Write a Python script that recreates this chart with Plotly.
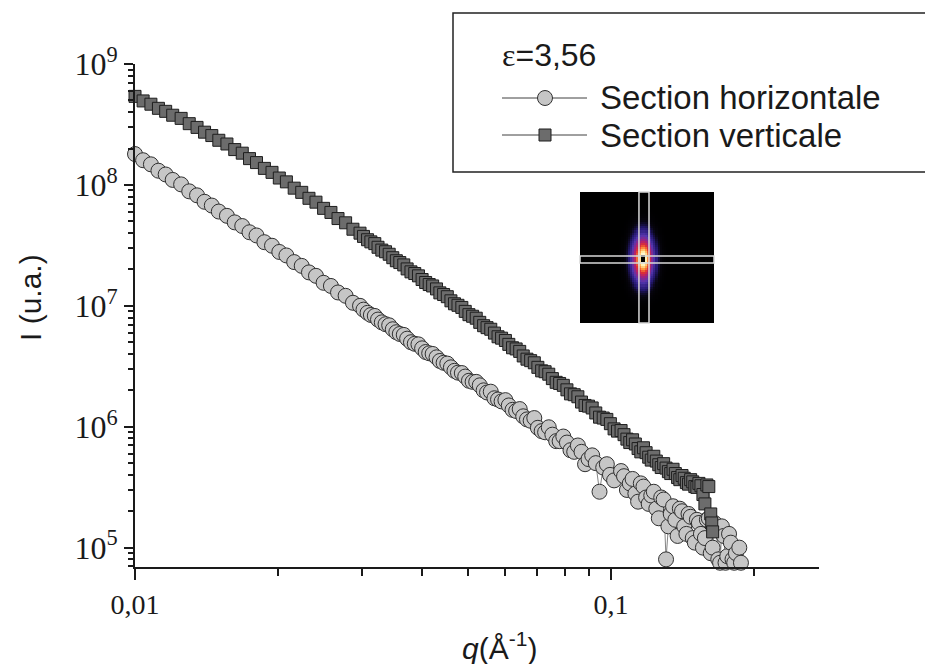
import numpy as np
import plotly.graph_objects as go

# ---------------- data ----------------
# Section verticale (squares): main readings + in-between readings
q_vert = [0.0100, 0.0104, 0.0108, 0.0112, 0.0116, 0.0120, 0.0125, 0.0130, 0.0135, 0.0140,
          0.0145, 0.0150, 0.0156, 0.0162, 0.0168, 0.0174, 0.0180, 0.0187, 0.0194, 0.0201,
          0.0208, 0.0216, 0.0224, 0.0232, 0.0240, 0.0249, 0.0258, 0.0267, 0.0277, 0.0287,
          0.0297, 0.0308, 0.0319, 0.0330, 0.0342, 0.0354, 0.0367, 0.0380, 0.0394, 0.0408,
          0.0422, 0.0437, 0.0453, 0.0469, 0.0486, 0.0503, 0.0521, 0.0540, 0.0559, 0.0579,
          0.0600, 0.0621, 0.0643, 0.0666, 0.0690, 0.0715, 0.0740, 0.0767, 0.0794, 0.0822,
          0.0852, 0.0882, 0.0913, 0.0946, 0.0980, 0.1015, 0.1050, 0.1080, 0.1110, 0.1140,
          0.1170, 0.1200, 0.1230, 0.1260, 0.1290, 0.1320, 0.1350, 0.1380, 0.1410, 0.1440,
          0.1470, 0.1500, 0.1530, 0.1560, 0.1590, 0.1620, 0.1635]
I_vert = [5.40e8, 4.95e8, 4.65e8, 4.30e8, 4.06e8, 3.77e8, 3.55e8, 3.21e8, 2.99e8, 2.73e8,
          2.56e8, 2.34e8, 2.18e8, 1.96e8, 1.83e8, 1.65e8, 1.53e8, 1.37e8, 1.27e8, 1.14e8,
          1.06e8, 9.40e7, 8.68e7, 7.75e7, 7.20e7, 6.40e7, 5.92e7, 5.27e7, 4.86e7, 4.30e7,
          3.99e7, 3.52e7, 3.27e7, 2.89e7, 2.67e7, 2.36e7, 2.18e7, 1.91e7, 1.77e7, 1.56e7,
          1.46e7, 1.28e7, 1.19e7, 1.04e7, 9.70e6, 8.45e6, 7.90e6, 6.85e6, 6.40e6, 5.55e6,
          5.17e6, 4.50e6, 4.20e6, 3.62e6, 3.38e6, 2.90e6, 2.72e6, 2.33e6, 2.20e6, 1.87e6,
          1.77e6, 1.50e6, 1.43e6, 1.20e6, 1.15e6, 9.60e5, 9.30e5, 7.90e5, 7.80e5, 6.60e5,
          6.70e5, 5.60e5, 5.70e5, 4.85e5, 4.95e5, 4.25e5, 4.45e5, 3.80e5, 3.95e5, 3.45e5,
          3.65e5, 3.20e5, 3.40e5, 2.75e5, 3.30e5, 1.90e5, 1.35e5]
q_vert_mid = [0.0302, 0.0313, 0.0324, 0.0336, 0.0348, 0.0360, 0.0373, 0.0387, 0.0401, 0.0415,
              0.0430, 0.0445, 0.0461, 0.0477, 0.0494, 0.0512, 0.0530, 0.0549, 0.0569, 0.0589,
              0.0610, 0.0632, 0.0654, 0.0678, 0.0702, 0.0727, 0.0753, 0.0780, 0.0808, 0.0837,
              0.0867, 0.0897, 0.0929, 0.0963, 0.0997, 0.1032, 0.1065, 0.1095, 0.1125, 0.1155,
              0.1185, 0.1215, 0.1245, 0.1275, 0.1305, 0.1335, 0.1365, 0.1395, 0.1425, 0.1455,
              0.1485, 0.1515, 0.1545, 0.1575, 0.1605, 0.1628]
I_vert_mid = [3.75e7, 3.38e7, 3.05e7, 2.80e7, 2.50e7, 2.28e7, 2.02e7, 1.85e7, 1.65e7, 1.50e7,
              1.38e7, 1.24e7, 1.10e7, 1.01e7, 9.00e6, 8.20e6, 7.30e6, 6.60e6, 5.95e6, 5.40e6,
              4.80e6, 4.40e6, 3.85e6, 3.52e6, 3.10e6, 2.85e6, 2.50e6, 2.28e6, 2.02e6, 1.84e6,
              1.60e6, 1.48e6, 1.30e6, 1.18e6, 1.06e6, 9.20e5, 8.60e5, 7.40e5, 7.20e5, 6.20e5,
              6.10e5, 5.30e5, 5.20e5, 4.60e5, 4.55e5, 4.10e5, 4.10e5, 3.65e5, 3.75e5, 3.35e5,
              3.50e5, 3.15e5, 3.25e5, 2.30e5, 3.20e5, 1.60e5]

# Section horizontale (circles): main readings + in-between readings
q_horiz = [0.0100, 0.0104, 0.0108, 0.0112, 0.0116, 0.0120, 0.0125, 0.0130, 0.0135, 0.0140,
           0.0145, 0.0150, 0.0156, 0.0162, 0.0168, 0.0174, 0.0180, 0.0187, 0.0194, 0.0201,
           0.0208, 0.0216, 0.0224, 0.0232, 0.0240, 0.0249, 0.0258, 0.0267, 0.0277, 0.0287,
           0.0297, 0.0308, 0.0319, 0.0330, 0.0342, 0.0354, 0.0367, 0.0380, 0.0394, 0.0408,
           0.0422, 0.0437, 0.0453, 0.0469, 0.0486, 0.0503, 0.0521, 0.0540, 0.0559, 0.0579,
           0.0600, 0.0621, 0.0643, 0.0666, 0.0690, 0.0715, 0.0740, 0.0767, 0.0794, 0.0822,
           0.0852, 0.0882, 0.0913, 0.0946, 0.0980, 0.0995, 0.1015, 0.1050, 0.1065, 0.1080,
           0.1095, 0.1110, 0.1125, 0.1140, 0.1155, 0.1170, 0.1185, 0.1200, 0.1215, 0.1230,
           0.1245, 0.1260, 0.1275, 0.1290, 0.1305, 0.1320, 0.1335, 0.1350, 0.1365, 0.1380,
           0.1395, 0.1410, 0.1425, 0.1440, 0.1455, 0.1470, 0.1485, 0.1500, 0.1515, 0.1530,
           0.1545, 0.1560, 0.1575, 0.1590, 0.1605, 0.1620, 0.1635, 0.1650, 0.1665, 0.1680,
           0.1695, 0.1710, 0.1725, 0.1740, 0.1755, 0.1770, 0.1785, 0.1800, 0.1815, 0.1830,
           0.1860, 0.1875]
I_horiz = [1.80e8, 1.60e8, 1.48e8, 1.31e8, 1.22e8, 1.10e8, 1.01e8, 8.85e7, 8.20e7, 7.25e7,
           6.75e7, 6.02e7, 5.55e7, 4.90e7, 4.57e7, 4.06e7, 3.82e7, 3.36e7, 3.14e7, 2.79e7,
           2.61e7, 2.30e7, 2.14e7, 1.89e7, 1.77e7, 1.55e7, 1.46e7, 1.29e7, 1.21e7, 1.06e7,
           1.00e7, 8.75e6, 8.25e6, 7.30e6, 6.90e6, 6.05e6, 5.75e6, 5.00e6, 4.80e6, 4.15e6,
           4.00e6, 3.50e6, 3.33e6, 2.90e6, 2.78e6, 2.40e6, 2.35e6, 2.00e6, 1.95e6, 1.68e6,
           1.66e6, 1.38e6, 1.40e6, 1.15e6, 1.18e6, 9.20e5, 9.90e5, 7.60e5, 8.30e5, 6.40e5,
           7.00e5, 4.90e5, 5.80e5, 2.90e5, 4.90e5, 4.00e5, 3.60e5, 4.30e5, 3.90e5, 3.00e5,
           3.40e5, 3.70e5, 2.80e5, 2.40e5, 3.40e5, 3.20e5, 2.60e5, 2.30e5, 2.70e5, 2.90e5,
           2.10e5, 1.75e5, 2.60e5, 2.50e5, 8.00e4, 1.50e5, 1.90e5, 2.20e5, 1.70e5, 1.25e5,
           2.10e5, 2.00e5, 1.50e5, 1.30e5, 1.90e5, 1.80e5, 1.20e5, 1.10e5, 1.70e5, 1.60e5,
           1.30e5, 1.00e5, 1.20e5, 1.70e5, 1.75e5, 9.00e4, 1.00e5, 1.60e5, 1.40e5, 8.00e4,
           7.50e4, 1.50e5, 1.25e5, 7.50e4, 8.50e4, 1.30e5, 1.10e5, 8.00e4, 7.50e4, 9.00e4,
           1.00e5, 7.50e4]
q_horiz_mid = [0.0302, 0.0313, 0.0324, 0.0336, 0.0348, 0.0360, 0.0373, 0.0387, 0.0401, 0.0415,
               0.0430, 0.0445, 0.0461, 0.0477, 0.0494, 0.0512, 0.0530, 0.0549, 0.0569, 0.0589,
               0.0610, 0.0632, 0.0654, 0.0678, 0.0702, 0.0727, 0.0753, 0.0780, 0.0808, 0.0837,
               0.0867, 0.0897, 0.0929, 0.0963]
I_horiz_mid = [9.30e6, 8.40e6, 7.70e6, 7.05e6, 6.40e6, 5.85e6, 5.35e6, 4.85e6, 4.45e6, 4.05e6,
               3.75e6, 3.38e6, 3.10e6, 2.80e6, 2.60e6, 2.35e6, 2.20e6, 1.92e6, 1.72e6, 1.62e6,
               1.50e6, 1.35e6, 1.22e6, 1.12e6, 9.80e5, 9.00e5, 8.60e5, 7.60e5, 7.40e5, 6.20e5,
               6.20e5, 5.40e5, 5.00e5, 4.60e5]

x_tickvals = [0.01, 0.1]
x_ticktext = ["0,01", "0,1"]
x_minor_vals = [0.02, 0.03, 0.04, 0.05, 0.06, 0.07, 0.08, 0.09, 0.2]
y_tickvals = [1e5, 1e6, 1e7, 1e8, 1e9]
y_ticktext = ["10<sup>5</sup>", "10<sup>6</sup>", "10<sup>7</sup>", "10<sup>8</sup>", "10<sup>9</sup>"]
y_minor_vals = [m * 10 ** e for e in range(4, 9) for m in range(2, 10)]

legend_title = "<span style='font-family:Liberation Serif'>ε</span>=3,56"
name_h = "Section horizontale"
name_v = "Section verticale"

# inset (2D scattering pattern thumbnail)
N_INSET = 64
inset_center = (0.47, 0.49)
inset_sigma = (0.05, 0.11)
inset_beamstop = 0.018

# ---------------- figure ----------------
W, H = 925, 664
L, R, T, B = 135, 106, 64, 97
pw, ph = W - L - R, H - T - B

SANS = "Liberation Sans, Arial, sans-serif"
SERIF = "Liberation Serif, Times New Roman, serif"
INK = "#1a1a1a"

CIRCLE_STYLE = dict(symbol="circle", size=15, color="#c6c6c6", line=dict(color="#303030", width=1))
SQUARE_STYLE = dict(symbol="square", size=12, color="#6c6c6c", line=dict(color="#1e1e1e", width=1))


def px_x(p):
    return (p - L) / pw


def px_y(p):
    return (H - B - p) / ph


def merged(qa, ia, qb, ib):
    pairs = sorted(zip(list(qa) + list(qb), list(ia) + list(ib)))
    return [p[0] for p in pairs], [p[1] for p in pairs]


qh, ih = merged(q_horiz, I_horiz, q_horiz_mid, I_horiz_mid)
qv, iv = merged(q_vert, I_vert, q_vert_mid, I_vert_mid)

fig = go.Figure()

fig.add_trace(go.Scatter(
    x=qh, y=ih, mode="lines+markers", name=name_h, showlegend=False,
    line=dict(color="#505050", width=0.7),
    marker=CIRCLE_STYLE, cliponaxis=False,
))
fig.add_trace(go.Scatter(
    x=qv, y=iv, mode="lines+markers", name=name_v, showlegend=False,
    line=dict(color="#505050", width=0.7),
    marker=SQUARE_STYLE, cliponaxis=False,
))

# inset heatmap
g = np.linspace(0, 1, N_INSET)
gx, gy = np.meshgrid(g, g)
dx = gx - inset_center[0]
dy = gy - inset_center[1]
z = np.exp(-(dx ** 2 / (2 * inset_sigma[0] ** 2) + dy ** 2 / (2 * inset_sigma[1] ** 2)))
z[np.sqrt(dx ** 2 + (dy * 0.6) ** 2) < inset_beamstop] = 0.0
fig.add_trace(go.Heatmap(
    z=z, x=g, y=g, xaxis="x2", yaxis="y2", showscale=False, hoverinfo="skip",
    zmin=0, zmax=1,
    colorscale=[[0, "#000000"], [0.03, "#07050f"], [0.1, "#241870"], [0.25, "#5436b0"],
                [0.45, "#a82078"], [0.62, "#e23030"], [0.78, "#ffa040"],
                [0.9, "#fff0b0"], [1, "#ffffff"]],
))

# ----- legend, drawn as frame + sample lines/markers + text -----
LEG_BOX = (453, 13, 932, 172)          # px: left, top, right, bottom
LEG_SYM = (502, 587, 545)              # px: line start, line end, marker centre
LEG_ROWS = (98, 135)                   # px: row centres
LEG_TEXT_X = 598

shapes = [
    dict(type="rect", xref="paper", yref="paper",
         x0=px_x(LEG_BOX[0]), x1=px_x(LEG_BOX[2]), y0=px_y(LEG_BOX[3]), y1=px_y(LEG_BOX[1]),
         line=dict(color="#222222", width=1.5), fillcolor="rgba(0,0,0,0)", layer="above"),
]
for row, style, shape_type in ((LEG_ROWS[0], CIRCLE_STYLE, "circle"),
                               (LEG_ROWS[1], SQUARE_STYLE, "rect")):
    shapes.append(dict(type="line", xref="paper", yref="paper",
                       x0=px_x(LEG_SYM[0]), x1=px_x(LEG_SYM[1]), y0=px_y(row), y1=px_y(row),
                       line=dict(color="#404040", width=1)))
    half = style["size"] / 2
    shapes.append(dict(type=shape_type, xref="paper", yref="paper",
                       xsizemode="pixel", ysizemode="pixel",
                       xanchor=px_x(LEG_SYM[2]), yanchor=px_y(row),
                       x0=-half, x1=half, y0=-half, y1=half,
                       fillcolor=style["color"], line=dict(color=style["line"]["color"], width=1)))

# inset section bands
shapes += [
    dict(type="rect", xref="x2 domain", yref="y2 domain", x0=0.44, x1=0.515, y0=0, y1=1,
         line=dict(color="#d8d8d8", width=1.5)),
    dict(type="rect", xref="x2 domain", yref="y2 domain", x0=0, x1=1, y0=0.458, y1=0.511,
         line=dict(color="#d8d8d8", width=1.5)),
]

annotations = [
    dict(text=legend_title, xref="paper", yref="paper", x=px_x(500), y=px_y(55),
         showarrow=False, xanchor="left", yanchor="middle",
         font=dict(family=SANS, size=32, color=INK)),
    dict(text=name_h, xref="paper", yref="paper", x=px_x(LEG_TEXT_X), y=px_y(LEG_ROWS[0]),
         showarrow=False, xanchor="left", yanchor="middle",
         font=dict(family=SANS, size=33, color=INK)),
    dict(text=name_v, xref="paper", yref="paper", x=px_x(LEG_TEXT_X), y=px_y(LEG_ROWS[1]),
         showarrow=False, xanchor="left", yanchor="middle",
         font=dict(family=SANS, size=33, color=INK)),
    dict(text="I (u.a.)", xref="paper", yref="paper", x=px_x(30), y=px_y(298),
         textangle=-90, showarrow=False, xanchor="center", yanchor="middle",
         font=dict(family=SANS, size=30, color=INK)),
    dict(text="<i>q</i>(Å<sup>-1</sup>)", xref="paper", yref="paper", x=px_x(500), y=px_y(646),
         showarrow=False, xanchor="center", yanchor="middle",
         font=dict(family=SANS, size=30, color=INK)),
]

fig.update_layout(
    width=W, height=H,
    margin=dict(l=L, r=R, t=T, b=B, autoexpand=False),
    paper_bgcolor="white", plot_bgcolor="white",
    showlegend=False,
    hovermode=False,
    xaxis=dict(
        type="log", range=[np.log10(0.01), np.log10(0.2735)], automargin=False,
        showgrid=False, zeroline=False, showline=True, linecolor=INK, linewidth=2,
        ticks="outside", ticklen=11, tickwidth=2, tickcolor=INK,
        tickmode="array", tickvals=x_tickvals, ticktext=x_ticktext,
        tickfont=dict(family=SERIF, size=28, color=INK),
        minor=dict(tickmode="array", tickvals=x_minor_vals, ticks="outside", ticklen=7,
                   tickwidth=2, tickcolor=INK, showgrid=False),
    ),
    yaxis=dict(
        type="log", range=[4.84, 9.0], automargin=False,
        showgrid=False, zeroline=False, showline=True, linecolor=INK, linewidth=2,
        ticks="outside", ticklen=9, tickwidth=2, tickcolor=INK,
        tickmode="array", tickvals=y_tickvals, ticktext=y_ticktext,
        tickfont=dict(family=SERIF, size=32, color=INK),
        minor=dict(tickmode="array", tickvals=y_minor_vals, ticks="outside", ticklen=5,
                   tickwidth=1.5, tickcolor=INK, showgrid=False),
    ),
    xaxis2=dict(domain=[px_x(580), px_x(714)], anchor="y2", visible=False,
                range=[0, 1], fixedrange=True),
    yaxis2=dict(domain=[px_y(323), px_y(192)], anchor="x2", visible=False,
                range=[0, 1], fixedrange=True),
    shapes=shapes,
    annotations=annotations,
)

fig.write_html("out.html", config={"displayModeBar": False},
               post_script="document.body.style.margin='0px';")
